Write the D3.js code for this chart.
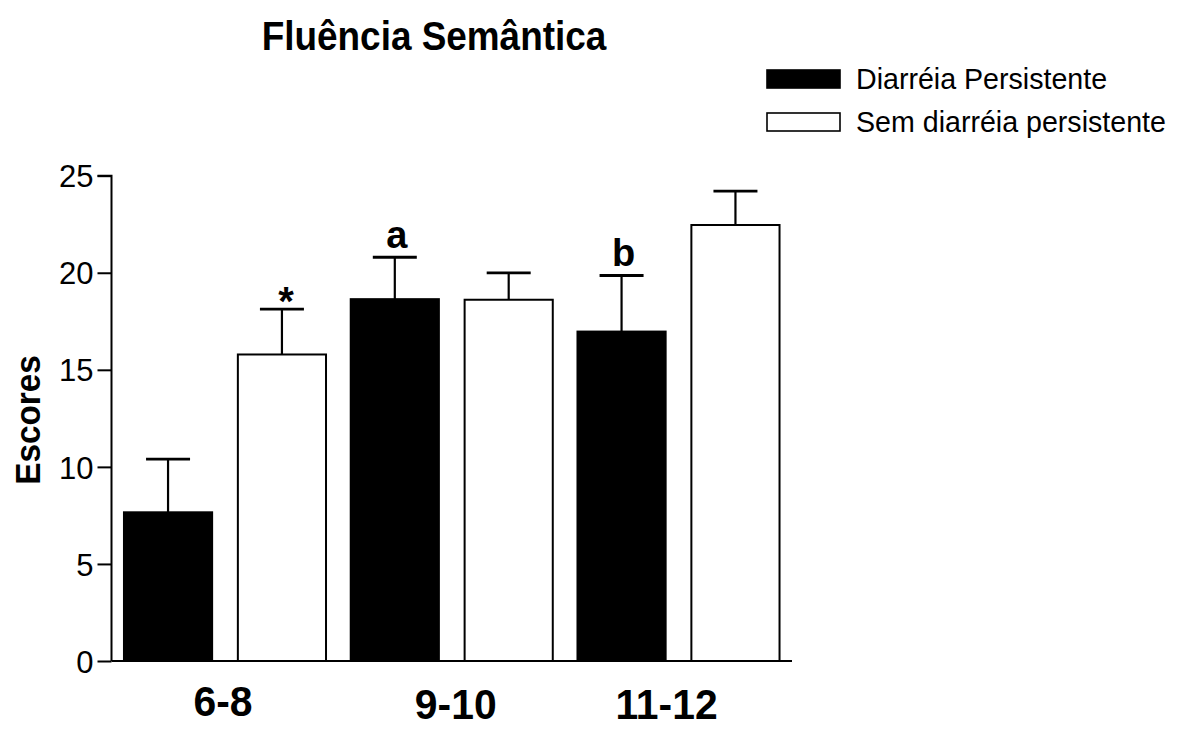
<!DOCTYPE html>
<html>
<head>
<meta charset="utf-8">
<script src="https://cdn.jsdelivr.net/npm/d3@7"></script>
<style>
  html, body { margin: 0; padding: 0; background: #fff; }
  svg { display: block; }
  text { font-family: "Liberation Sans", Arial, Helvetica, sans-serif; fill: #000; }
</style>
</head>
<body>
<svg id="chart" width="1182" height="729"></svg>
<script>
// Age groups (years) and the two study groups
const ageGroups = ["6-8", "9-10", "11-12"];
const seriesNames = ["Diarréia Persistente", "Sem diarréia persistente"];

// Mean semantic-fluency scores and upper error (SEM) per age group
const meanPersistent = [7.66, 18.64, 16.97];
const errPersistent  = [2.74, 2.16, 2.89];
const meanNoPersist  = [15.79, 18.61, 22.46];
const errNoPersist   = [2.34, 1.38, 1.75];

// Significance marks drawn above each bar ("" = none)
const marksPersistent = ["", "a", "b"];
const marksNoPersist  = ["*", "", ""];

const yTicks = [0, 5, 10, 15, 20, 25];

const svg = d3.select("#chart");
const plot = { left: 111.5, right: 792, top: 175.7, bottom: 661 };

const y = d3.scaleLinear().domain([0, 25]).range([plot.bottom, plot.top]);

const x0 = d3.scaleBand()
  .domain(ageGroups)
  .range([plot.left, plot.right])
  .paddingInner(0.109)
  .paddingOuter(0.055);

const x1 = d3.scaleBand()
  .domain(seriesNames)
  .range([0, x0.bandwidth()])
  .paddingInner(0.226)
  .paddingOuter(0);

const fills = { [seriesNames[0]]: "#000", [seriesNames[1]]: "#fff" };

const rows = [];
ageGroups.forEach((g, i) => {
  rows.push({ group: g, series: seriesNames[0], mean: meanPersistent[i], err: errPersistent[i], mark: marksPersistent[i] });
  rows.push({ group: g, series: seriesNames[1], mean: meanNoPersist[i], err: errNoPersist[i], mark: marksNoPersist[i] });
});

// Squeeze a text element horizontally to a fraction of its natural width
function condense(sel, factor) {
  sel.each(function () {
    const w = this.getComputedTextLength();
    d3.select(this).attr("textLength", w * factor).attr("lengthAdjust", "spacingAndGlyphs");
  });
}

// Error bars (drawn first so bar fill hides the stem below the top)
const capHalf = 22;
const eb = svg.append("g").attr("class", "errorbars")
  .attr("stroke", "#000").attr("stroke-width", 2.2);
rows.forEach(d => {
  const cx = x0(d.group) + x1(d.series) + x1.bandwidth() / 2;
  eb.append("line").attr("x1", cx).attr("x2", cx)
    .attr("y1", y(d.mean)).attr("y2", y(d.mean + d.err));
  eb.append("line").attr("x1", cx - capHalf).attr("x2", cx + capHalf)
    .attr("y1", y(d.mean + d.err)).attr("y2", y(d.mean + d.err))
    .attr("stroke-width", 2.8);
});

// Bars
svg.append("g").attr("class", "bars")
  .selectAll("rect").data(rows).join("rect")
  .attr("x", d => x0(d.group) + x1(d.series))
  .attr("y", d => y(d.mean))
  .attr("width", x1.bandwidth())
  .attr("height", d => y(0) - y(d.mean))
  .attr("fill", d => fills[d.series])
  .attr("stroke", "#000")
  .attr("stroke-width", 2);

// Significance letters / asterisk above the error caps
svg.append("g").attr("class", "marks")
  .selectAll("text").data(rows.filter(d => d.mark)).join("text")
  .attr("x", d => x0(d.group) + x1(d.series) + x1.bandwidth() / 2 + (d.mark === "*" ? 4 : 2))
  .attr("y", d => y(d.mean + d.err) + (d.mark === "*" ? 6 : -9))
  .attr("text-anchor", "middle")
  .style("font-size", d => d.mark === "*" ? "40px" : "38px")
  .style("font-weight", "bold")
  .text(d => d.mark);

// Y axis
const yAxis = d3.axisLeft(y).tickValues(yTicks).tickSize(14).tickPadding(4);
const gy = svg.append("g").attr("transform", `translate(${plot.left},0)`).call(yAxis);
gy.select(".domain").attr("stroke", "#000").attr("stroke-width", 2)
  .attr("d", `M-14,${plot.top}H0V${plot.bottom}`);
gy.selectAll(".tick line").attr("stroke", "#000").attr("stroke-width", 2);
gy.selectAll(".tick text")
  .style("font-size", "31px")
  .style("font-family", "'Liberation Sans', Arial, sans-serif")
  .attr("dy", "0.36em");

// X axis baseline
svg.append("line")
  .attr("x1", plot.left).attr("x2", plot.right)
  .attr("y1", plot.bottom).attr("y2", plot.bottom)
  .attr("stroke", "#000").attr("stroke-width", 2);

// Age-group labels under each pair of bars
const labelNudge = [-2, 4, -12];
const labelBase = [716, 719, 719];
svg.append("g").attr("class", "xlabels")
  .selectAll("text").data(ageGroups).join("text")
  .attr("x", (d, i) => x0(d) + x0.bandwidth() / 2 + labelNudge[i])
  .attr("y", (d, i) => labelBase[i])
  .attr("text-anchor", "middle")
  .style("font-size", "43px")
  .style("font-weight", "bold")
  .text(d => d)
  .call(condense, 0.95);

// Y axis title
svg.append("text")
  .attr("transform", `translate(40,420) rotate(-90)`)
  .attr("text-anchor", "middle")
  .style("font-size", "35px")
  .style("font-weight", "bold")
  .text("Escores")
  .call(condense, 0.95);

// Chart title
svg.append("text")
  .attr("x", 434).attr("y", 50)
  .attr("text-anchor", "middle")
  .style("font-size", "41px")
  .style("font-weight", "bold")
  .text("Fluência Semântica")
  .call(condense, 0.9);

// Legend
const legend = svg.append("g").attr("class", "legend");
const legendRows = [70, 113];
seriesNames.forEach((s, i) => {
  legend.append("rect")
    .attr("x", 767).attr("y", legendRows[i])
    .attr("width", 73).attr("height", 18)
    .attr("fill", fills[s]).attr("stroke", "#000").attr("stroke-width", 1.6);
  legend.append("text")
    .attr("x", 856).attr("y", legendRows[i] + 19)
    .style("font-size", "28.6px")
    .text(s);
});
</script>
</body>
</html>
